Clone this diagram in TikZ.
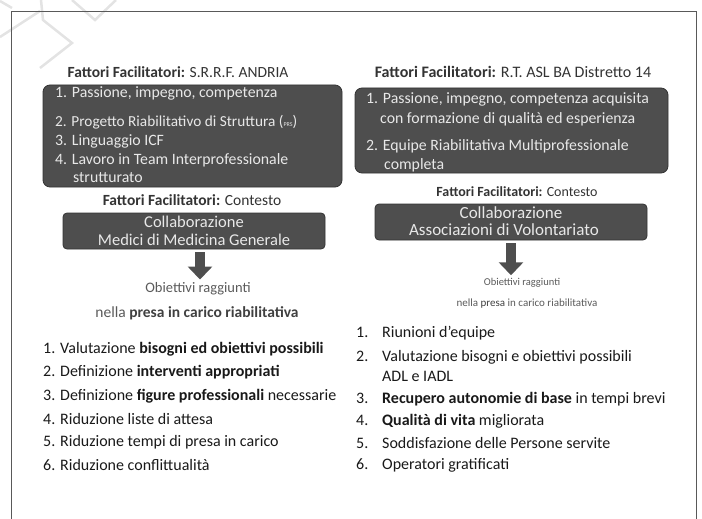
\documentclass[tikz,border=0pt]{standalone}
\usepackage{fontspec}
\setmainfont{Carlito}
\usetikzlibrary{arrows.meta}

\definecolor{boxfill}{HTML}{4E4E4E}
\definecolor{boxline}{HTML}{333333}
\definecolor{boxtext}{HTML}{E8E8E8}
\definecolor{titletext}{HTML}{333333}
\definecolor{softtext}{HTML}{5A5A5A}

\newcommand{\num}[1]{\makebox[26pt][l]{#1}}

\begin{document}
\begin{tikzpicture} [
  y=-1pt,
  x=1pt,
  darkbox/.style={draw=boxline, fill=boxfill, rounded corners=7pt, line width=0.8pt},
  boxitem/.style={anchor=west, text=boxtext, font=\fontsize{15.8}{17}\selectfont, inner sep=0pt},
  title/.style={text=titletext, font=\fontsize{15.5}{17}\selectfont, inner sep=1pt},
  soft/.style={text=softtext, font=\fontsize{14.5}{16}\selectfont, inner sep=1pt},
  listitem/.style={anchor=west, text=black!90, font=\fontsize{16}{18}\selectfont, inner sep=0pt},
  blockarrow/.style={draw=boxfill, line width=10pt, -{Triangle[width=24pt, length=13pt]}}
  ]
  \useasboundingbox (0,0) rectangle (702,519);
  % faint strokes in the corner
  \draw[gray!22, line width=2.5pt] (0,1) -- (12,8);
  \draw[gray!22, line width=2.5pt] (0,37) -- (40,11);
  \draw[gray!22, line width=2.5pt] (41,0) -- (43,20) -- (72,43) -- (40,68);
  \draw[gray!22, line width=2.5pt] (72,0) -- (95,20) -- (116,0);
  % frame
  \draw[gray!70!black, line width=0.9pt] (11,530) -- (11,11) -- (696,11) -- (696,530);

  % left column
  \node(tit-sx)[title, at={(178,72)}]{\textbf{Fattori Facilitatori:} S.R.R.F. ANDRIA};
  \node(box-sx)[darkbox, minimum width=299pt, minimum height=102pt, at={(192.5,136)}]{};
  \node(sx1)[boxitem, at={(55,93)}]{1. Passione, impegno, competenza};
  \node(sx2)[boxitem, font=\fontsize{15.3}{17}\selectfont, at={(55,122)}]{2. Progetto Riabilitativo di Struttura ({\fontsize{6}{7}\selectfont PRS})};
  \node(sx3)[boxitem, at={(55,141)}]{3. Linguaggio ICF};
  \node(sx4)[boxitem, at={(55,160)}]{4. Lavoro in Team Interprofessionale};
  \node(sx4b)[boxitem, at={(73,178)}]{strutturato};

  \node(ctx-sx)[title, at={(192,200)}]{\textbf{Fattori Facilitatori:} Contesto};
  \node(coll-sx)[darkbox, rounded corners=4pt, minimum width=262pt, minimum height=36pt, at={(194,231)}]{};
  \node(coll-sx1)[boxitem, anchor=center, font=\fontsize{16.5}{18}\selectfont, at={(194,222)}]{Collaborazione};
  \node(coll-sx2)[boxitem, anchor=center, font=\fontsize{16.5}{18}\selectfont, at={(194,240)}]{Medici di Medicina Generale};

  \node(obi-sx)[soft, at={(198,289)}]{Obiettivi raggiunti};
  \node(presa-sx)[soft, font=\fontsize{15.5}{17}\selectfont, at={(197,313)}]{nella \textcolor{black!75}{\textbf{presa in carico riabilitativa}}};
  \draw[blockarrow] ([yshift=-3pt]coll-sx.south -| 200,0) -- ([yshift=2pt]obi-sx.north -| 200,0);

  \node(ris-sx1)[listitem, at={(43,349)}]{1. Valutazione \textbf{bisogni ed obiettivi possibili}};
  \node(ris-sx2)[listitem, at={(43,372)}]{2. Definizione \textbf{interventi appropriati}};
  \node(ris-sx3)[listitem, at={(43,396)}]{3. Definizione \textbf{figure professionali} necessarie};
  \node(ris-sx4)[listitem, at={(43,419)}]{4. Riduzione liste di attesa};
  \node(ris-sx5)[listitem, at={(43,442)}]{5. Riduzione tempi di presa in carico};
  \node(ris-sx6)[listitem, at={(43,465)}]{6. Riduzione conflittualità};

  % right column
  \node(tit-dx)[title, font=\fontsize{16}{18}\selectfont, at={(513,72)}]{\textbf{Fattori Facilitatori:} R.T. ASL BA Distretto 14};
  \node(box-dx)[darkbox, minimum width=313pt, minimum height=85pt, at={(511.5,130.5)}]{};
  \node(dx1)[boxitem, at={(366,99)}]{1. Passione, impegno, competenza acquisita};
  \node(dx1b)[boxitem, at={(380,119)}]{con formazione di qualità ed esperienza};
  \node(dx2)[boxitem, at={(366,146)}]{2. Equipe Riabilitativa Multiprofessionale};
  \node(dx2b)[boxitem, at={(384,165)}]{completa};

  \node(ctx-dx)[title, font=\fontsize{14}{16}\selectfont, at={(517,192)}]{\textbf{Fattori Facilitatori:} Contesto};
  \node(coll-dx)[darkbox, rounded corners=4pt, minimum width=272pt, minimum height=36pt, at={(511,222)}]{};
  \node(coll-dx1)[boxitem, anchor=center, font=\fontsize{17}{19}\selectfont, at={(511,213)}]{Collaborazione};
  \node(coll-dx2)[boxitem, anchor=center, font=\fontsize{17}{19}\selectfont, at={(504,230)}]{Associazioni di Volontariato};

  \node(obi-dx)[soft, font=\fontsize{10.5}{12}\selectfont, at={(522,283)}]{Obiettivi raggiunti};
  \node(presa-dx)[soft, font=\fontsize{11}{13}\selectfont, at={(527,304)}]{nella \textcolor{black!75}{presa} in carico riabilitativa};
  \draw[blockarrow] ([yshift=-3pt]coll-dx.south) -- ([yshift=2pt]obi-dx.north -| coll-dx.south);

  \node(ris-dx1)[listitem, at={(356,333)}]{\num{1.}Riunioni d’equipe};
  \node(ris-dx2)[listitem, at={(356,357)}]{\num{2.}Valutazione bisogni e obiettivi possibili};
  \node(ris-dx2b)[listitem, at={(382,376)}]{ADL e IADL};
  \node(ris-dx3)[listitem, at={(356,399)}]{\num{3.}\textbf{Recupero autonomie di base} in tempi brevi};
  \node(ris-dx4)[listitem, at={(356,421)}]{\num{4.}\textbf{Qualità di vita} migliorata};
  \node(ris-dx5)[listitem, at={(356,443)}]{\num{5.}Soddisfazione delle Persone servite};
  \node(ris-dx6)[listitem, at={(356,465)}]{\num{6.}Operatori gratificati};
\end{tikzpicture}
\end{document}
